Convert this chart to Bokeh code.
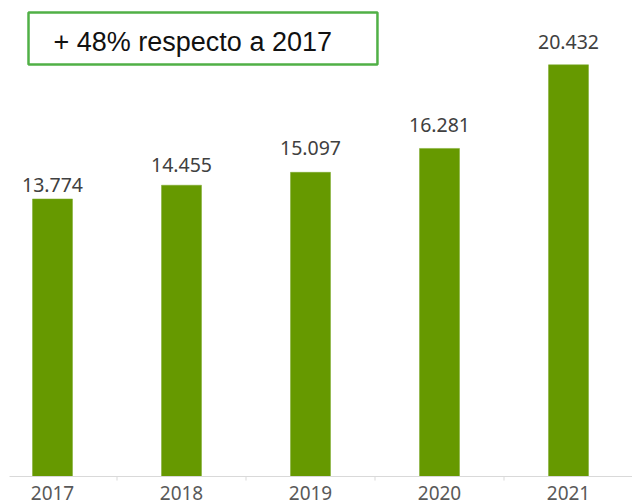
from bokeh.plotting import figure
from bokeh.models import ColumnDataSource, Range1d, BoxAnnotation, Label
from bokeh.core.properties import value
from bokeh.embed import file_html
from bokeh.resources import INLINE

years = ["2017", "2018", "2019", "2020", "2021"]
totals = [13.774, 14.455, 15.097, 16.281, 20.432]
total_labels = ["13.774", "14.455", "15.097", "16.281", "20.432"]
label_gaps = [-14, -20, -24, -23, -23]
note = "+ 48% respecto a 2017"

xs = list(range(len(years)))
src = ColumnDataSource(dict(x=xs, top=totals, lab=total_labels, gap=label_gaps, year=years))

x_start, x_end = -0.4031, 4.4961
p = figure(width=632, height=501, output_backend="svg", toolbar_location=None,
           x_range=Range1d(x_start, x_end), y_range=Range1d(-1.2407, 23.623),
           min_border=0, min_border_left=0, min_border_right=0,
           min_border_top=0, min_border_bottom=0)
p.axis.visible = False
p.grid.visible = False
p.outline_line_color = None
p.background_fill_color = "white"

p.vbar(x="x", top="top", bottom=0, width=0.31, source=src,
       fill_color="#669900", line_color="#7aa82a", line_width=0.5)

# value labels
p.text(x="x", y="top", text="lab", y_offset="gap", source=src,
       text_align="center", text_baseline="alphabetic",
       text_font=value("Noto Sans"), text_font_size="19.5px", text_color="#404040")

# baseline axis
p.segment(x0=[-0.333], y0=[0], x1=[x_end], y1=[0], line_color="#D9D9D9", line_width=1)
bx = [i + 0.5 for i in xs[:-1]]
p.segment(x0=bx, y0=[0] * len(bx), x1=bx, y1=[-0.2] * len(bx),
          line_color="#D9D9D9", line_width=1)

# category labels
p.text(x="x", y=0, text="year", source=src, y_offset=9,
       text_align="center", text_baseline="top",
       text_font=value("Noto Sans"), text_font_size="19px", text_color="#595959")

# callout box
p.add_layout(BoxAnnotation(left=-0.186, right=2.519, bottom=20.447, top=23.027,
                           fill_color="white", fill_alpha=1.0,
                           line_color="#50B046", line_alpha=1.0, line_width=2.5))
p.add_layout(Label(x=0.0078, y=21.54, text=note, text_font="Liberation Sans",
                   text_font_size="27px", text_color="#111111",
                   text_baseline="alphabetic", text_align="left"))

open("out.html", "w").write(file_html(p, INLINE))
